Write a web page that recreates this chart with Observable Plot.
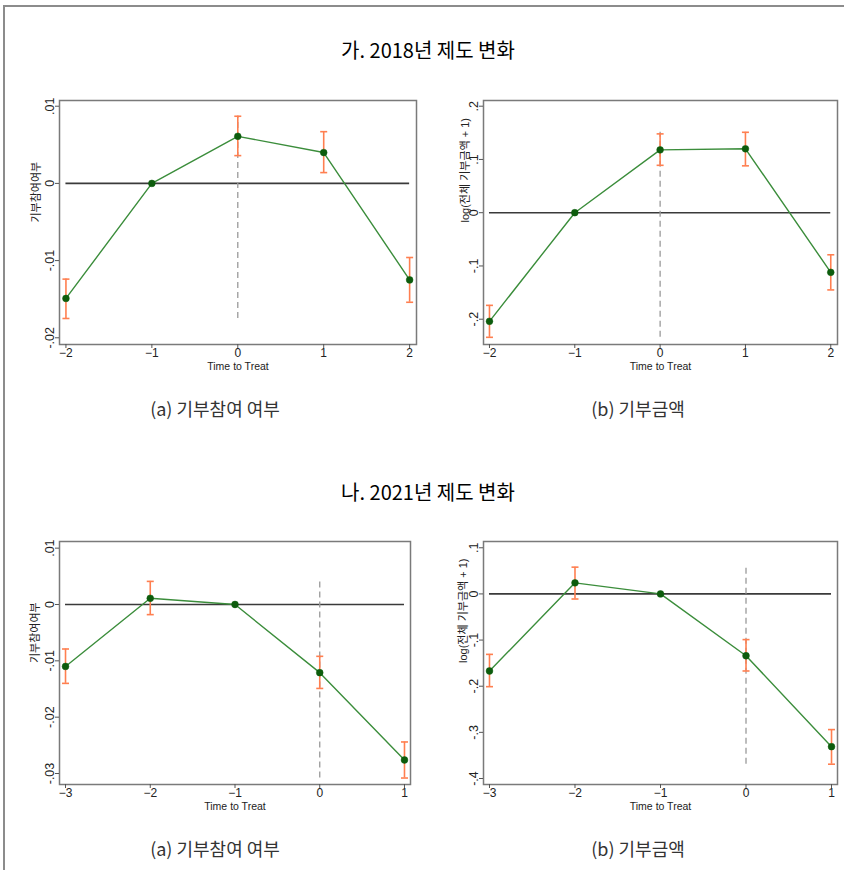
<!DOCTYPE html>
<html><head><meta charset="utf-8">
<script src="https://cdn.jsdelivr.net/npm/d3@7"></script>
<script src="https://cdn.jsdelivr.net/npm/@observablehq/plot@0.6"></script>
<style>
body{margin:0;background:#fff;}
#page{position:relative;width:844px;height:870px;overflow:hidden;font-family:"Noto Sans CJK KR",sans-serif;background:#fff;}
.border{position:absolute;left:3px;top:5px;width:900px;height:900px;border-top:2px solid #8c8c8c;border-left:2px solid #8c8c8c;}
.title{position:absolute;left:6px;width:844px;text-align:center;font-size:20px;line-height:24px;color:#000;}
.cap{position:absolute;font-size:18px;line-height:22px;color:#333;transform:translateX(-50%);white-space:nowrap;}
.panel{position:absolute;}
</style></head>
<body><div id="page">
<div class="border"></div>
<div class="title" id="t1" style="top:38px"></div>
<div class="title" id="t2" style="top:480px"></div>
<div class="cap" id="c1" style="left:215px;top:397px"></div>
<div class="cap" id="c2" style="left:638px;top:397px"></div>
<div class="cap" id="c3" style="left:215px;top:837px"></div>
<div class="cap" id="c4" style="left:638px;top:837px"></div>
<div class="panel" id="p1" style="left:10px;top:90px"></div>
<div class="panel" id="p2" style="left:430px;top:90px"></div>
<div class="panel" id="p3" style="left:10px;top:530px"></div>
<div class="panel" id="p4" style="left:430px;top:530px"></div>
</div>
<script>
// ---- text ----
const sectionTitles = ["가. 2018년 제도 변화", "나. 2021년 제도 변화"];
const panelCaptions = ["(a) 기부참여 여부", "(b) 기부금액"];
const yLabelPart = "기부참여여부";
const yLabelAmt = "log(전체 기부금액 + 1)";
const xLabel = "Time to Treat";

// ---- data: 2018 ----
const t2018 = [-2, -1, 0, 1, 2];
const part2018 = [-0.0149, 0, 0.0061, 0.0040, -0.0125];
const part2018Lo = [-0.0175, 0, 0.0036, 0.0014, -0.0154];
const part2018Hi = [-0.0124, 0, 0.0087, 0.0067, -0.0096];
const amt2018 = [-0.204, 0, 0.118, 0.120, -0.112];
const amt2018Lo = [-0.234, 0, 0.089, 0.088, -0.145];
const amt2018Hi = [-0.174, 0, 0.148, 0.151, -0.079];

// ---- data: 2021 ----
const t2021 = [-3, -2, -1, 0, 1];
const part2021 = [-0.0110, 0.0011, 0, -0.0121, -0.0276];
const part2021Lo = [-0.0140, -0.0018, 0, -0.0149, -0.0308];
const part2021Hi = [-0.0079, 0.0041, 0, -0.0092, -0.0244];
const amt2021 = [-0.167, 0.024, 0, -0.134, -0.331];
const amt2021Lo = [-0.201, -0.011, 0, -0.167, -0.369];
const amt2021Hi = [-0.131, 0.058, 0, -0.099, -0.294];

// ---- ticks ----
const xTicks2018 = [-2, -1, 0, 1, 2];
const xTicks2021 = [-3, -2, -1, 0, 1];
const yTicksPart2018 = [0.01, 0, -0.01, -0.02];
const yTicksAmt2018 = [0.2, 0.1, 0, -0.1, -0.2];
const yTicksPart2021 = [0.01, 0, -0.01, -0.02, -0.03];
const yTicksAmt2021 = [0.1, 0, -0.1, -0.2, -0.3, -0.4];

document.getElementById("t1").textContent = sectionTitles[0];
document.getElementById("t2").textContent = sectionTitles[1];
document.getElementById("c1").textContent = panelCaptions[0];
document.getElementById("c2").textContent = panelCaptions[1];
document.getElementById("c3").textContent = panelCaptions[0];
document.getElementById("c4").textContent = panelCaptions[1];

const fmt = d => d === 0 ? "0" : String(+d.toFixed(3)).replace("0.", ".");
const capSymbol = {draw(ctx) { ctx.moveTo(-3.5, 0); ctx.lineTo(3.5, 0); }};
const FONT = "'Liberation Sans', Arial, 'Noto Sans CJK KR', sans-serif";

function panel(o) {
  const data = o.t.map((d, i) => ({t: d, b: o.est[i], lo: o.lo[i], hi: o.hi[i]}));
  const ci = data.filter(d => d.lo !== d.hi);
  const tMin = d3.min(o.t), tMax = d3.max(o.t);
  const ciMin = d3.min(o.lo), ciMax = d3.max(o.hi);
  const ciColor = "#ff7f50";
  return Plot.plot({
    width: o.w, height: 290,
    marginLeft: o.ml, marginRight: o.mr, marginTop: o.mt, marginBottom: o.mb,
    x: {domain: o.xDomain, axis: null},
    y: {domain: o.yDomain, axis: null},
    style: {fontFamily: FONT, fontSize: "12px", color: "#222", background: "#fff", overflow: "visible"},
    marks: [
      Plot.ruleY([0], {x1: () => tMin, x2: () => tMax, stroke: "#3a3a3a", strokeWidth: 1.6}),
      Plot.ruleX([0], {y1: () => ciMin, y2: () => ciMax, stroke: "#9a9a9a", strokeWidth: 1.3, strokeDasharray: "6,4"}),
      Plot.line(data, {x: "t", y: "b", stroke: "#3b8d3b", strokeWidth: 1.4}),
      Plot.ruleX(ci, {x: "t", y1: "lo", y2: "hi", stroke: ciColor, strokeWidth: 1.6}),
      Plot.dot(ci, {x: "t", y: "lo", symbol: capSymbol, fill: "none", stroke: ciColor, strokeWidth: 1.6}),
      Plot.dot(ci, {x: "t", y: "hi", symbol: capSymbol, fill: "none", stroke: ciColor, strokeWidth: 1.6}),
      Plot.dot(data, {x: "t", y: "b", r: 3.4, fill: "#0d5c0d", stroke: "#0d5c0d", strokeWidth: 0.5}),
      Plot.frame({stroke: "#7a7a7a", strokeWidth: 1.5}),
      Plot.axisY(o.yTicks, {anchor: "left", tickFormat: fmt, tickRotate: -90, tickSize: 4, tickPadding: 2, label: null, stroke: "#555", fontSize: 12.5, fill: "#222"}),
      Plot.axisX(o.xTicks, {anchor: "bottom", tickSize: 4, tickPadding: 0, label: null, stroke: "#555", fontSize: 12, fill: "#222"}),
      Plot.text([o.yLabel], {frameAnchor: "left", rotate: -90, dx: o.labelDx, fontSize: 11, fill: "#222"}),
      Plot.text([xLabel], {frameAnchor: "bottom", dy: 25, fontSize: 10.5, fill: "#222"})
    ]
  });
}

document.getElementById("p1").append(panel({
  t: t2018, est: part2018, lo: part2018Lo, hi: part2018Hi,
  xDomain: [-2.075, 2.08], yDomain: [-0.02087, 0.01074],
  xTicks: xTicks2018, yTicks: yTicksPart2018, yLabel: yLabelPart,
  w: 420, ml: 49, mr: 14, mt: 10, mb: 36, labelDx: -23
}));
document.getElementById("p2").append(panel({
  t: t2018, est: amt2018, lo: amt2018Lo, hi: amt2018Hi,
  xDomain: [-2.07, 2.079], yDomain: [-0.2475, 0.2107],
  xTicks: xTicks2018, yTicks: yTicksAmt2018, yLabel: yLabelAmt,
  w: 414, ml: 53, mr: 7, mt: 10, mb: 36, labelDx: -18
}));
document.getElementById("p3").append(panel({
  t: t2021, est: part2021, lo: part2021Lo, hi: part2021Hi,
  xDomain: [-3.071, 1.071], yDomain: [-0.03195, 0.01118],
  xTicks: xTicks2021, yTicks: yTicksPart2021, yLabel: yLabelPart,
  w: 420, ml: 49, mr: 20, mt: 11, mb: 36, labelDx: -24
}));
document.getElementById("p4").append(panel({
  t: t2021, est: amt2021, lo: amt2021Lo, hi: amt2021Hi,
  xDomain: [-3.07, 1.07], yDomain: [-0.413, 0.1136],
  xTicks: xTicks2021, yTicks: yTicksAmt2021, yLabel: yLabelAmt,
  w: 414, ml: 53, mr: 7, mt: 11, mb: 36, labelDx: -20
}));
</script>
</body></html>
